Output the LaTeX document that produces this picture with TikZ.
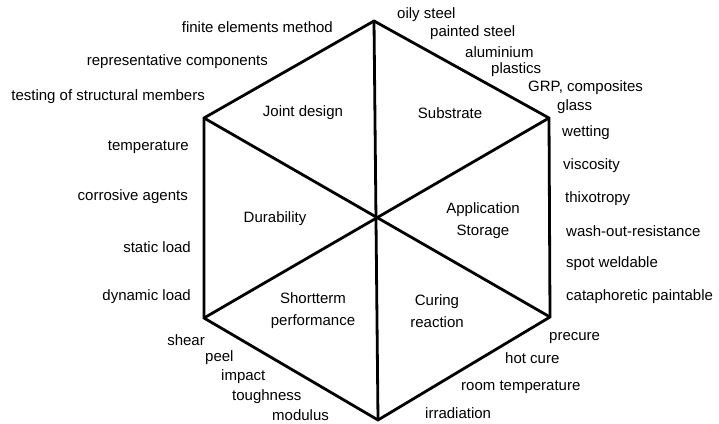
\documentclass[tikz,border=0pt]{standalone}
\usepackage{fontspec}
\setmainfont{Liberation Sans}
\usepackage{tikz}

\tikzset{
  edgelbl/.style={inner sep=0pt, font=\fontsize{15}{17}\selectfont},
  arealbl/.style={inner sep=0pt, align=center, font=\fontsize{15}{22}\selectfont},
  hexline/.style={line width=2.8pt, line join=miter}
}

\begin{document}
\begin{tikzpicture}[x=1pt, y=1pt]
  \useasboundingbox (0,0) rectangle (719,423);
  % corners of the hexagon
  \coordinate (top) at (374,402);
  \coordinate (upright) at (549,305);
  \coordinate (lowright) at (550,106);
  \coordinate (bottom) at (378,3);
  \coordinate (lowleft) at (204,105);
  \coordinate (upleft) at (204,305);
  \draw[hexline] (top) -- (upright) -- (lowright) -- (bottom) -- (lowleft) -- (upleft) -- cycle;
  \draw[hexline] (top) -- (bottom);
  \draw[hexline] (upleft) -- (lowright);
  \draw[hexline] (lowleft) -- (upright);

  % the six fields
  \node[arealbl] (joint) at (303,310) {Joint design};
  \node[arealbl] (substrate) at (450,310) {Substrate};
  \node[arealbl] (durability) at (275,204) {Durability};
  \node[arealbl] (application) at (483,202) {Application\\Storage};
  \node[arealbl] (shortterm) at (313,112) {Shortterm\\performance};
  \node[arealbl] (curing) at (437,112) {Curing\\reaction};

  % joint design
  \node[edgelbl, anchor=east] (fem) at (333,396) {finite elements method};
  \node[edgelbl, anchor=east] (reprcomp) at (268,361) {representative components};
  \node[edgelbl, anchor=east] (testing) at (205,326) {testing of structural members};
  % durability
  \node[edgelbl, anchor=east] (temp) at (189,276) {temperature};
  \node[edgelbl, anchor=east] (corrosive) at (188,226) {corrosive agents};
  \node[edgelbl, anchor=east] (staticload) at (191,176) {static load};
  \node[edgelbl, anchor=east] (dynload) at (191,126) {dynamic load};
  % shortterm performance
  \node[edgelbl, anchor=east] (shear) at (205,83) {shear};
  \node[edgelbl, anchor=west] (peel) at (205,65) {peel};
  \node[edgelbl, anchor=west] (impact) at (221,46) {impact};
  \node[edgelbl, anchor=west] (toughness) at (232,26) {toughness};
  \node[edgelbl, anchor=west] (modulus) at (272,8) {modulus};
  % substrate
  \node[edgelbl, anchor=west] (oily) at (397,408) {oily steel};
  \node[edgelbl, anchor=west] (painted) at (430,390) {painted steel};
  \node[edgelbl, anchor=west] (alu) at (465,371) {aluminium};
  \node[edgelbl, anchor=west] (plastics) at (491,353) {plastics};
  \node[edgelbl, anchor=west] (grp) at (528,335) {GRP, composites};
  \node[edgelbl, anchor=west] (glass) at (557,316) {glass};
  % application
  \node[edgelbl, anchor=west] (wetting) at (562,290) {wetting};
  \node[edgelbl, anchor=west] (viscosity) at (563,257) {viscosity};
  \node[edgelbl, anchor=west] (thixo) at (565,224) {thixotropy};
  \node[edgelbl, anchor=west] (washout) at (566,192) {wash-out-resistance};
  \node[edgelbl, anchor=west] (spotweld) at (566,159) {spot weldable};
  \node[edgelbl, anchor=west] (cataph) at (566,126) {cataphoretic paintable};
  % curing
  \node[edgelbl, anchor=west] (precure) at (549,85) {precure};
  \node[edgelbl, anchor=west] (hotcure) at (505,65) {hot cure};
  \node[edgelbl, anchor=west] (roomtemp) at (461,36) {room temperature};
  \node[edgelbl, anchor=west] (irrad) at (425,10) {irradiation};
\end{tikzpicture}
\end{document}
